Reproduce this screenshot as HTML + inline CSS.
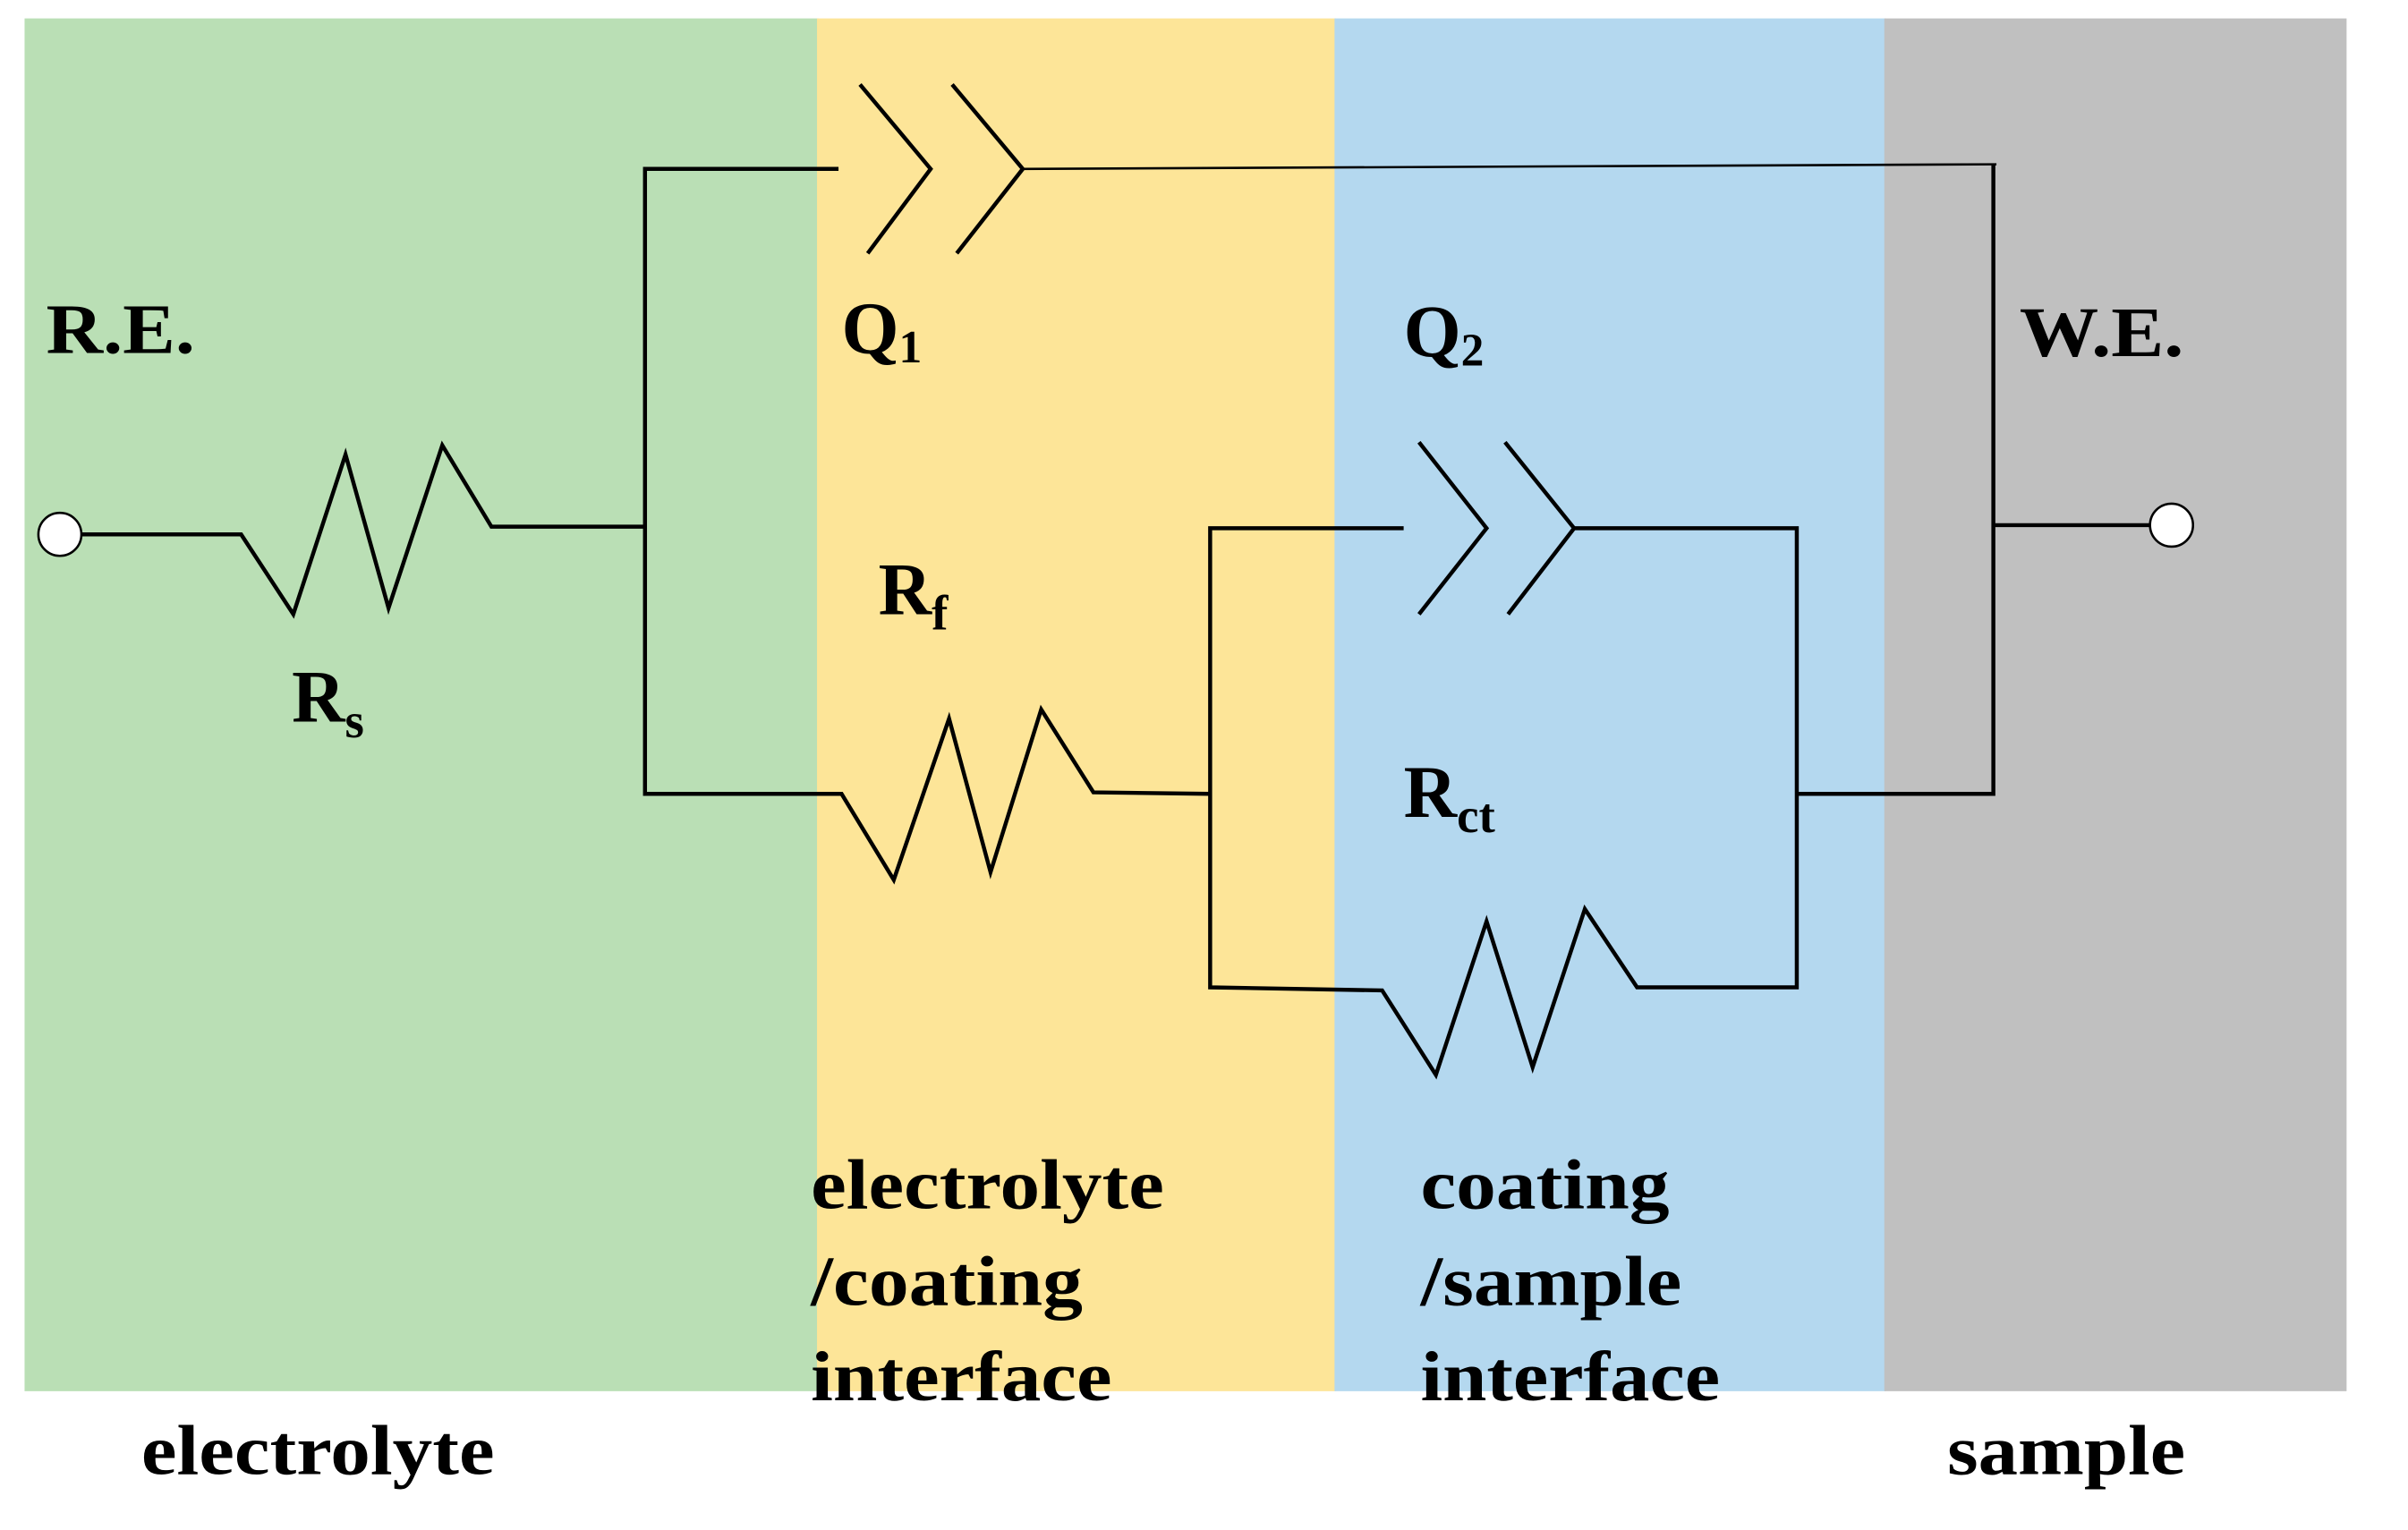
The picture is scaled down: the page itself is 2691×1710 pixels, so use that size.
<!DOCTYPE html>
<html><head><meta charset="utf-8"><style>html,body{margin:0;padding:0;background:#fff}svg{display:block}</style></head>
<body>
<svg width="2691" height="1710" viewBox="0 0 1568 996.4" preserveAspectRatio="none" xmlns="http://www.w3.org/2000/svg">
<rect x="0" y="0" width="1568" height="997" fill="#fff"/>
<rect x="16" y="12" width="517" height="894" fill="#badfb5"/>
<rect x="532" y="12" width="338" height="894" fill="#fde598"/>
<rect x="869" y="12" width="359" height="894" fill="#b4d8ef"/>
<rect x="1227" y="12" width="301" height="894" fill="#c0c0c0"/>
<g fill="none" stroke="#000" stroke-width="2.6" stroke-linejoin="miter">
<polyline points="53,348 157,348 191,400 225,296 253,396 288,290 320,343 420,343"/>
<polyline points="546,110 420,110 420,517 548,517 582,573 618,468 645,568 678,462 712,516 788,517"/>
<polyline points="560,55 606,110 565,165"/>
<polyline points="620,55 666,110 623,165"/>
<polyline points="666,110 1300,107" stroke-width="1.5"/>
<polyline points="1298,107 1298,517 1170,517"/>
<polyline points="1298,342 1400,342"/>
<polyline points="914,344 788,344 788,643 900,645 935,700 968,600 998,695 1032,592 1066,643 1170,643 1170,344 1025,344"/>
<polyline points="924,288 968,344 924,400"/>
<polyline points="980,288 1025,344 982,400"/>
</g>
<circle cx="39" cy="348" r="14" fill="#fff" stroke="#000" stroke-width="1.5"/>
<circle cx="1414" cy="342" r="14" fill="#fff" stroke="#000" stroke-width="1.5"/>
<g font-family="Liberation Serif, serif" font-weight="bold" fill="#000" font-size="46" lengthAdjust="spacingAndGlyphs">
<text x="30" y="230" textLength="97" lengthAdjust="spacingAndGlyphs">R.E.</text>
<text x="548" y="230" font-size="48">Q<tspan font-size="30" dy="6">1</tspan></text>
<text x="914" y="232" font-size="48">Q<tspan font-size="30" dy="6">2</tspan></text>
<text x="1315" y="232" textLength="107" lengthAdjust="spacingAndGlyphs">W.E.</text>
<text x="572" y="400" font-size="48">R<tspan font-size="32" dy="10">f</tspan></text>
<text x="190" y="470" font-size="48">R<tspan font-size="32" dy="10">s</tspan></text>
<text x="914" y="532" font-size="48">R<tspan font-size="32" dy="10">ct</tspan></text>
<text x="528" y="787" textLength="230" lengthAdjust="spacingAndGlyphs">electrolyte</text>
<text x="528" y="850" textLength="177" lengthAdjust="spacingAndGlyphs">/coating</text>
<text x="528" y="912" textLength="196" lengthAdjust="spacingAndGlyphs">interface</text>
<text x="925" y="787" textLength="162" lengthAdjust="spacingAndGlyphs">coating</text>
<text x="925" y="850" textLength="170" lengthAdjust="spacingAndGlyphs">/sample</text>
<text x="925" y="912" textLength="195" lengthAdjust="spacingAndGlyphs">interface</text>
<text x="92" y="960" textLength="230" lengthAdjust="spacingAndGlyphs">electrolyte</text>
<text x="1268" y="960" textLength="155" lengthAdjust="spacingAndGlyphs">sample</text>
</g>
</svg>
</body></html>
